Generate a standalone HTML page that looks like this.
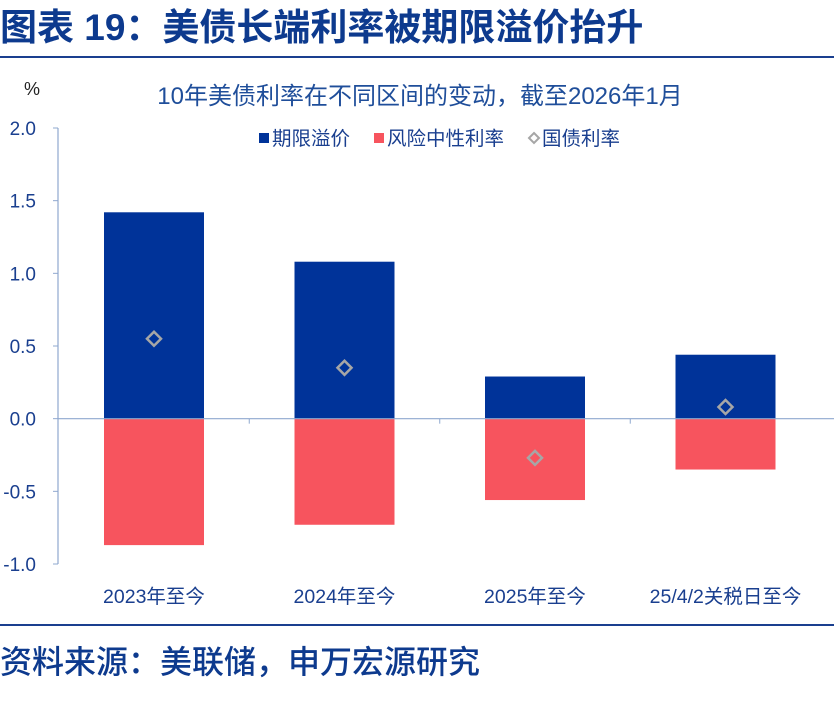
<!DOCTYPE html>
<html><head><meta charset="utf-8"><style>
body{margin:0;width:834px;height:702px;background:#fff;overflow:hidden;font-family:"Liberation Sans","Noto Sans CJK SC",sans-serif;}
#title{position:absolute;left:0;top:6px;font-size:37px;line-height:44px;font-weight:bold;color:#0d3a8e;white-space:nowrap;letter-spacing:0px}
.hr{position:absolute;left:0;width:834px;height:2px;background:#1a3f8f}
#src{position:absolute;left:0;top:643px;font-size:32px;line-height:38px;color:#0d3a8e;white-space:nowrap;font-weight:500}
svg{position:absolute;left:0;top:0}
</style></head><body>
<div id="title">图表 19：美债长端利率被期限溢价抬升</div>
<div class="hr" style="top:56px"></div>
<div class="hr" style="top:624px"></div>
<div id="src">资料来源：美联储，申万宏源研究</div>
<svg id="chart" width="834" height="702"></svg>
<script>
const categories=["2023年至今","2024年至今","2025年至今","25/4/2关税日至今"];
const termPremium=[1.42,1.08,0.29,0.44];
const riskNeutral=[-0.87,-0.73,-0.56,-0.35];
const yieldChange=[0.55,0.35,-0.27,0.08];
const yTicks=["2.0","1.5","1.0","0.5","0.0","-0.5","-1.0"];
const NS="http://www.w3.org/2000/svg";
const svg=document.getElementById('chart');
const x0=58,x1=834,yTop=128,yBot=564,vMax=2,vMin=-1;
function y(v){return yTop+(vMax-v)/(vMax-vMin)*(yBot-yTop);}
const bw=190.5;
function xc(i){return 154+bw*i;}
function el(t,a,txt){const e=document.createElementNS(NS,t);for(const k in a)e.setAttribute(k,a[k]);if(txt!==undefined)e.textContent=txt;svg.appendChild(e);return e;}
let e;
e=el('text',{x:420,y:104,'font-size':24,fill:'#1f4e9a','text-anchor':'middle'},'10年美债利率在不同区间的变动，截至2026年1月');


e=el('text',{x:24,y:95,'font-size':18,fill:'#222'},'%');


yTicks.forEach(t=>{const v=parseFloat(t);
 e=el('text',{x:36,y:y(v)+7,'font-size':19,fill:'#1a3f8f','text-anchor':'end'},t);
 
 
 el('line',{x1:x0-5,x2:x0,y1:y(v),y2:y(v),stroke:'#8fa8cf','stroke-width':1});
});
e=el('line',{x1:x0,x2:x0,y1:yTop,y2:yBot,stroke:'#8fa8cf','stroke-width':1.2});


categories.forEach((c,i)=>{
 e=el('rect',{x:xc(i)-50,y:y(termPremium[i]),width:100,height:y(0)-y(termPremium[i]),fill:'#003399'});
 
 
 e=el('rect',{x:xc(i)-50,y:y(0),width:100,height:y(riskNeutral[i])-y(0),fill:'#f7545e'});
 
 
 const cy=y(yieldChange[i]),cx=xc(i);
 e=el('polygon',{points:`${cx},${cy-7} ${cx+7},${cy} ${cx},${cy+7} ${cx-7},${cy}`,fill:'none',stroke:'#a6a6a6','stroke-width':2.5});
 
 
 e=el('text',{x:cx,y:603,'font-size':19.5,fill:'#1a3f8f','text-anchor':'middle'},c);
 
 
 if(i>0)el('line',{x1:xc(i)-bw/2,x2:xc(i)-bw/2,y1:y(0),y2:y(0)+5,stroke:'#8fa8cf'});
});
e=el('line',{x1:x0,x2:x1,y1:y(0),y2:y(0),stroke:'#8fa8cf','stroke-width':1.2});


const leg=[["期限溢价",'#003399','sq',259],["风险中性利率",'#f7545e','sq',374],["国债利率",'#a6a6a6','dia',529]];
leg.forEach(l=>{
 const g=document.createElementNS(NS,'g');svg.appendChild(g);
 
 
 let m;
 if(l[2]=='sq'){m=document.createElementNS(NS,'rect');m.setAttribute('x',l[3]);m.setAttribute('y',133);m.setAttribute('width',10);m.setAttribute('height',10);m.setAttribute('fill',l[1]);}
 else{m=document.createElementNS(NS,'polygon');const cx=l[3]+5,cy=138;m.setAttribute('points',`${cx},${cy-5} ${cx+5},${cy} ${cx},${cy+5} ${cx-5},${cy}`);m.setAttribute('fill','none');m.setAttribute('stroke',l[1]);m.setAttribute('stroke-width',2);}
 g.appendChild(m);
 const t=document.createElementNS(NS,'text');t.setAttribute('x',l[3]+13);t.setAttribute('y',145);t.setAttribute('font-size',19.5);t.setAttribute('fill','#1a3f8f');t.textContent=l[0];g.appendChild(t);
});
</script>
</body></html>
